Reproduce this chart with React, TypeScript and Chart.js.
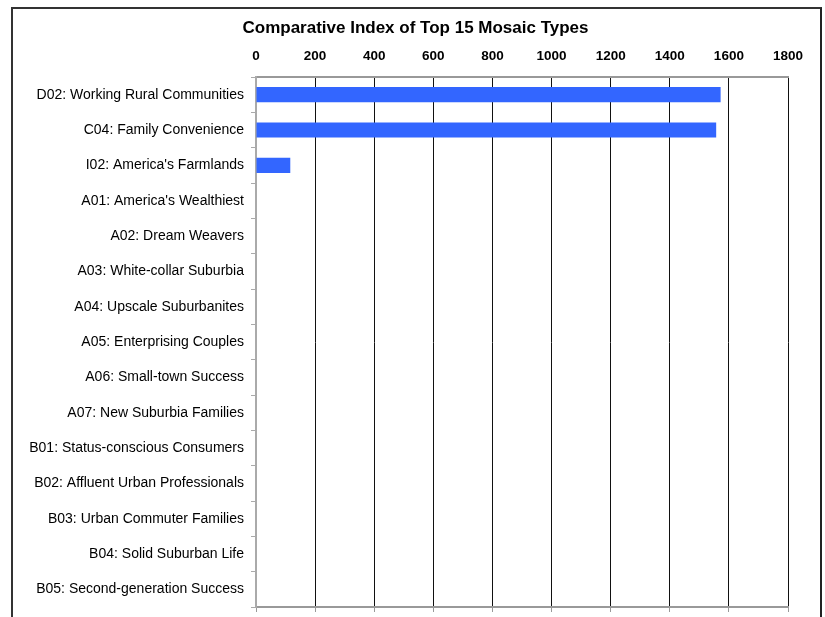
import React, { useEffect, useRef } from "react";
import { Chart, registerables } from "chart.js";

Chart.register(...registerables);

const categories = [
  "D02: Working Rural Communities",
  "C04: Family Convenience",
  "I02: America's Farmlands",
  "A01: America's Wealthiest",
  "A02: Dream Weavers",
  "A03: White-collar Suburbia",
  "A04: Upscale Suburbanites",
  "A05: Enterprising Couples",
  "A06: Small-town Success",
  "A07: New Suburbia Families",
  "B01: Status-conscious Consumers",
  "B02: Affluent Urban Professionals",
  "B03: Urban Commuter Families",
  "B04: Solid Suburban Life",
  "B05: Second-generation Success",
];
const values = [1572, 1557, 116, 0, 0, 0, 0, 0, 0, 0, 0, 0, 0, 0, 0];
const xMin = 0;
const xMax = 1800;
const xStep = 200;
const titleText = "Comparative Index of Top 15 Mosaic Types";

const FONT = "'Liberation Sans', Arial, sans-serif";

const frameTitle = {
  id: "frameTitle",
  afterDraw(chart: any) {
    const c = chart.ctx;
    c.save();
    c.font = `bold 17px ${FONT}`;
    c.fillStyle = "#000";
    c.textAlign = "center";
    c.textBaseline = "middle";
    c.fillText(titleText, chart.width / 2 + 3, 28);
    c.restore();
  },
};

export default function App() {
  const ref = useRef<HTMLCanvasElement>(null);
  useEffect(() => {
    const ctx = ref.current!;
    const chart = new Chart(ctx, {
      type: "bar",
      data: {
        labels: categories,
        datasets: [
          {
            data: values,
            backgroundColor: "#3366FF",
            borderWidth: 0,
            barPercentage: 0.43,
            categoryPercentage: 1,
            xAxisID: "x",
          },
        ],
      },
      plugins: [frameTitle],
      options: {
        indexAxis: "y",
        animation: false,
        responsive: false,
        maintainAspectRatio: false,
        layout: { padding: { left: 0, right: 37, top: 37, bottom: 0 } },
        plugins: {
          legend: { display: false },
          tooltip: { enabled: false },
          title: { display: false },
        },
        scales: {
          x: {
            position: "top",
            min: xMin,
            max: xMax,
            ticks: {
              stepSize: xStep,
              color: "#000",
              font: { family: FONT, size: 13.5, weight: "bold" },
              padding: 13,
              maxRotation: 0,
              callback: (v: any) => String(v),
            },
            grid: {
              drawTicks: false,
              color: (c: any) => (c.index === 0 ? "rgba(0,0,0,0)" : "#111"),
              lineWidth: 1,
            },
            border: { display: true, color: "#999", width: 2 },
            afterFit: (s: any) => {
              s.height = 40;
            },
          },
          x2: {
            position: "bottom",
            min: xMin,
            max: xMax,
            ticks: {
              stepSize: xStep,
              callback: () => "",
              font: { size: 1 },
              padding: 0,
            },
            grid: {
              drawOnChartArea: false,
              drawTicks: true,
              tickLength: 5,
              color: "#999",
            },
            border: { display: true, color: "#999", width: 2 },
            afterFit: (s: any) => {
              s.height = 10;
            },
          },
          y: {
            ticks: {
              color: "#000",
              font: { family: FONT, size: 14 },
              padding: 7,
              autoSkip: false,
            },
            grid: {
              offset: true,
              drawOnChartArea: false,
              drawTicks: true,
              tickLength: 5,
              color: "#aaa",
            },
            border: { display: true, color: "#aaa", width: 2 },
            afterFit: (s: any) => {
              s.width = 256;
              s.paddingTop = 0;
              s.paddingBottom = 0;
            },
          },
        },
      },
    });
    return () => chart.destroy();
  }, []);
  return (
    <div style={{ position: "fixed", left: 0, top: 0, width: 825, height: 617, background: "#fff", overflow: "hidden" }}>
      <div
        style={{
          position: "absolute",
          left: 11,
          top: 7,
          width: 807,
          height: 640,
          borderLeft: "2px solid #333",
          borderTop: "2px solid #333",
          borderRight: "2px solid #222",
        }}
      />
      <canvas ref={ref} width={825} height={617} style={{ position: "absolute", left: 0, top: 0, width: 825, height: 617 }} />
    </div>
  );
}
